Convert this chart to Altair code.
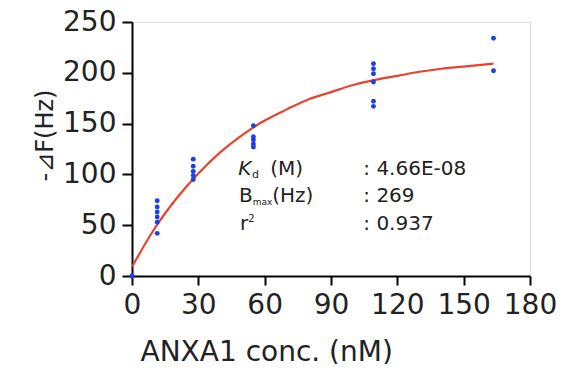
import altair as alt
import pandas as pd

# Measured points (ANXA1 concentration, nM ; -dF, Hz)
pt_x = [0, 0, 0,
        11.4, 11.4, 11.4, 11.4, 11.4, 11.4,
        27.7, 27.7, 27.7, 27.7, 27.7,
        54.9, 54.9, 54.9, 54.9, 54.9,
        109.2, 109.2, 109.2, 109.2, 109.2, 109.2,
        163.5, 163.5]
pt_y = [0, 0, 0,
        74, 68, 63, 58, 53, 42,
        115, 108, 103, 99, 95,
        148, 137, 134, 130, 127,
        209, 204, 199, 191, 172, 167,
        234, 202]

# Fitted curve
fit_x = [0, 10, 20, 30, 40, 50, 60, 70, 80, 90, 100, 110, 120, 130, 140, 150, 163.5]
fit_y = [9, 46, 76, 101, 122, 139, 153, 164, 174, 181, 188, 193, 197, 201, 204, 206, 209]

# Annotation pieces
norm_text = ["(M)", "B", "(Hz)", "r", ": 4.66E-08", ": 269", ": 0.937"]
norm_x = [62.5, 48.4, 63.4, 48.9, 104.6, 104.6, 104.6]
norm_y = [99.4, 73.1, 73.1, 45.3, 99.4, 73.1, 45.3]
ital_text = ["K"]
ital_x = [48.0]
ital_y = [99.4]
small_text = ["d", "max", "2"]
small_x = [54.3, 54.6, 52.6]
small_y = [96.4, 70.0, 53.0]
small_size = [11, 9, 10]

x_ticks = [0, 30, 60, 90, 120, 150, 180]
y_ticks = [0, 50, 100, 150, 200, 250]

FONT = "DejaVu Sans"

pts = pd.DataFrame({"x": pt_x, "y": pt_y})
fit = pd.DataFrame({"x": fit_x, "y": fit_y})
norm = pd.DataFrame({"x": norm_x, "y": norm_y, "t": norm_text})
ital = pd.DataFrame({"x": ital_x, "y": ital_y, "t": ital_text})
small = pd.DataFrame({"x": small_x, "y": small_y, "t": small_text, "s": small_size})

xs = alt.Scale(domain=[0, 180], nice=False, zero=False)
ys = alt.Scale(domain=[0, 250], nice=False, zero=False)

x_axis = alt.Axis(values=x_ticks, title="ANXA1 conc. (nM)", grid=False,
                  domainColor="black", domainWidth=2, tickColor="black", tickWidth=2,
                  tickSize=9, labelPadding=6, labelFont=FONT, labelFontSize=28,
                  labelColor="#222", titleFont=FONT, titleFontSize=28,
                  titleFontWeight="normal", titleColor="#222",
                  titleAnchor="start", titleAlign="left", titleBaseline="alphabetic",
                  titleX=8, titleY=84, labelFlush=False, labelOverlap=False)
y_axis = alt.Axis(values=y_ticks, title="-⊿F(Hz)", grid=False,
                  domainColor="black", domainWidth=2, tickColor="black", tickWidth=2,
                  tickSize=10, labelPadding=6, labelFont=FONT, labelFontSize=28,
                  labelColor="#222", titleFont=FONT, titleFontSize=24,
                  titleFontWeight="normal", titleColor="#222",
                  titleAngle=-90, titleAlign="center", titleBaseline="alphabetic",
                  titleX=-80, titleY=113, labelFlush=False, labelOverlap=False)

curve = alt.Chart(fit).mark_line(color="#e8432c", strokeWidth=2.2, interpolate="monotone").encode(
    x=alt.X("x:Q", scale=xs, axis=x_axis),
    y=alt.Y("y:Q", scale=ys, axis=y_axis),
)
dots = alt.Chart(pts).mark_point(filled=True, shape="circle", size=24, color="#1e3ee6", opacity=1).encode(
    x=alt.X("x:Q", scale=xs), y=alt.Y("y:Q", scale=ys)
)
t_norm = alt.Chart(norm).mark_text(font=FONT, fontSize=20, align="left", baseline="alphabetic", color="#222").encode(
    x=alt.X("x:Q", scale=xs), y=alt.Y("y:Q", scale=ys), text="t:N"
)
t_ital = alt.Chart(ital).mark_text(font=FONT, fontSize=20, fontStyle="italic", align="left", baseline="alphabetic", color="#222").encode(
    x=alt.X("x:Q", scale=xs), y=alt.Y("y:Q", scale=ys), text="t:N"
)
t_small = alt.Chart(small).mark_text(font=FONT, align="left", baseline="alphabetic", color="#222").encode(
    x=alt.X("x:Q", scale=xs), y=alt.Y("y:Q", scale=ys), text="t:N",
    size=alt.Size("s:Q", scale=None, legend=None)
)

chart = alt.layer(curve, dots, t_norm, t_ital, t_small).properties(
    width=398, height=254,
    autosize=alt.AutoSizeParams(type="none"),
    padding={"left": 124, "top": 14, "right": 27, "bottom": 88},
).configure_view(stroke=None).configure(background="white")

chart.save("out.html", embed_options={"renderer": "svg", "actions": False})
